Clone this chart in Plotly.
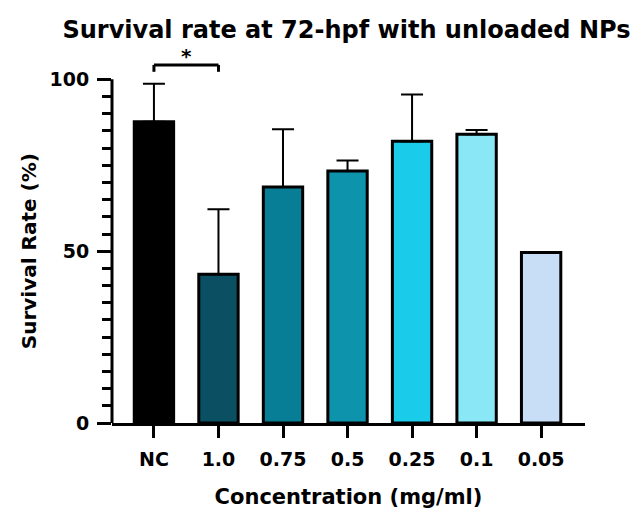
import plotly.graph_objects as go

# Survival data (mean and upper SD) per concentration group
categories = ["NC", "1.0", "0.75", "0.5", "0.25", "0.1", "0.05"]
survival = [87.7, 43.3, 68.7, 73.3, 82.0, 84.0, 49.6]
sd_upper = [11.0, 18.9, 16.8, 3.1, 13.6, 1.3, 0.0]
bar_colors = ["#000000", "#0A4F62", "#087D96", "#0E93AD", "#1ACCEA", "#8AE7F5", "#C8DDF6"]

y_major = [0, 50, 100]
y_minor = list(range(5, 100, 5))

FONT = "DejaVu Sans"

fig = go.Figure()
fig.add_trace(go.Bar(
    x=categories,
    y=survival,
    marker=dict(color=bar_colors, line=dict(color="black", width=3)),
    error_y=dict(type="data", symmetric=False, array=sd_upper,
                 arrayminus=[0] * len(sd_upper),
                 color="black", thickness=2, width=11),
    showlegend=False,
))

# Significance bracket between NC and 1.0
fig.add_shape(type="line", xref="x", yref="y", x0=0, x1=0, y0=102.2, y1=104.2,
              line=dict(color="black", width=3))
fig.add_shape(type="line", xref="x", yref="y", x0=1, x1=1, y0=102.2, y1=104.2,
              line=dict(color="black", width=3))
fig.add_shape(type="line", xref="x", yref="y", x0=0, x1=1, y0=104.2, y1=104.2,
              line=dict(color="black", width=3))
fig.add_annotation(x=0.5, y=106.8, xref="x", yref="y", text="<b>*</b>",
                   showarrow=False, font=dict(family=FONT, size=20, color="black"))

# Y-axis spine stops at 100
fig.add_shape(type="line", xref="paper", yref="y", x0=0, x1=0, y0=0, y1=100,
              line=dict(color="black", width=3))

# Y-axis title, centred on the 0-100 span of the axis
fig.add_annotation(x=0, xref="paper", xshift=-83, y=50, yref="y",
                   text="<b>Survival Rate (%)</b>", textangle=-90,
                   showarrow=False, xanchor="center", yanchor="middle",
                   font=dict(family=FONT, size=20, color="black"))

fig.update_layout(
    width=638, height=522,
    margin=dict(l=112, r=53, t=45, b=99),
    plot_bgcolor="white", paper_bgcolor="white",
    bargap=0.39,
    title=dict(text="<b>Survival rate at 72-hpf with unloaded NPs</b>",
               x=0.543, xanchor="center", y=0.943, yanchor="middle",
               font=dict(family=FONT, size=24, color="black")),
    font=dict(family=FONT, color="black"),
)

fig.update_xaxes(
    range=[-0.65, 6.68],
    showline=True, linecolor="black", linewidth=3,
    ticks="outside", ticklen=12, tickwidth=3, tickcolor="black",
    ticklabelstandoff=5,
    tickfont=dict(family=FONT, size=19, color="black"),
    ticktext=[f"<b>{c}</b>" for c in categories], tickvals=categories,
    title=dict(text="<b>Concentration (mg/ml)</b>", standoff=21,
               font=dict(family=FONT, size=21, color="black")),
    showgrid=False, zeroline=False,
)

fig.update_yaxes(
    range=[0, 110],
    showline=False,
    tickmode="array", tickvals=y_major,
    ticktext=[f"<b>{v}</b>" for v in y_major],
    ticks="outside", ticklen=14, tickwidth=3, tickcolor="black",
    ticklabelstandoff=4,
    tickfont=dict(family=FONT, size=19, color="black"),
    minor=dict(tickmode="array", tickvals=y_minor, ticks="outside",
               ticklen=9, tickwidth=3, tickcolor="black", showgrid=False),
    showgrid=False, zeroline=False,
)

fig.write_html("out.html")
